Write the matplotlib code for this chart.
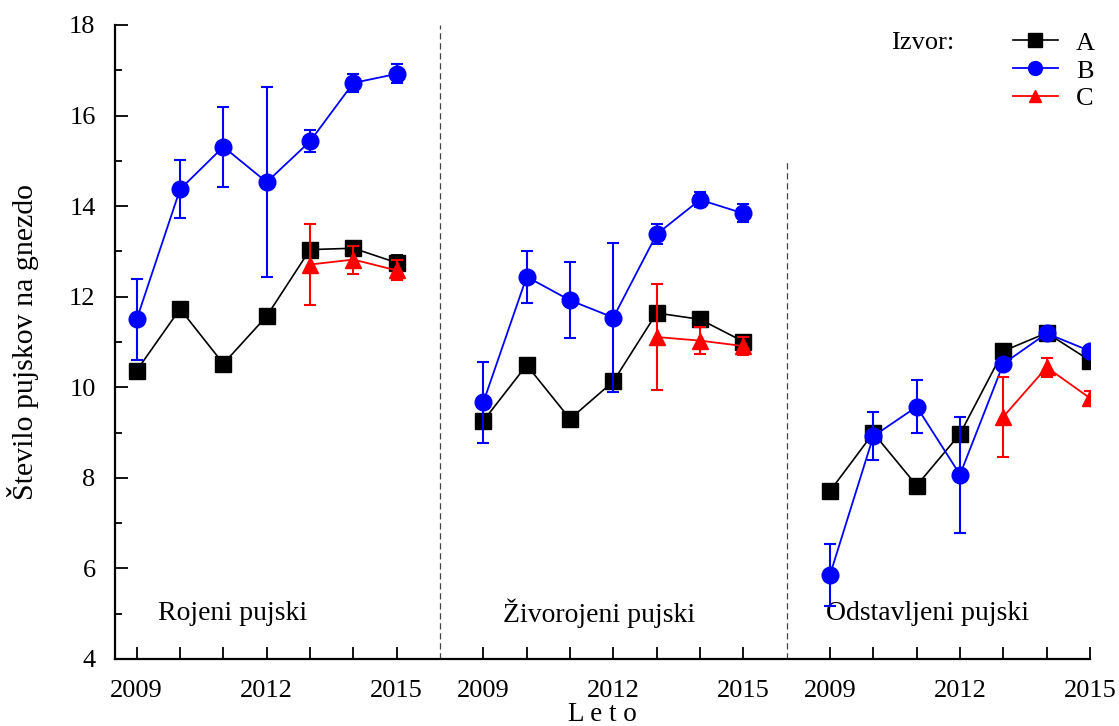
import matplotlib
matplotlib.use("Agg")
import matplotlib.pyplot as plt
from matplotlib.lines import Line2D
from matplotlib.ticker import FixedLocator, FixedFormatter

plt.rcParams['font.family'] = ['Liberation Serif', 'DejaVu Serif']
plt.rcParams['mathtext.fontset'] = 'stix'

years = [2009, 2010, 2011, 2012, 2013, 2014, 2015]
years_c = [2013, 2014, 2015]
panels = ["Rojeni pujski", "Živorojeni pujski", "Odstavljeni pujski"]

# Source A
a_vals = [
    [10.37, 11.73, 10.52, 11.57, 13.04, 13.07, 12.75],
    [9.26, 10.49, 9.30, 10.13, 11.64, 11.50, 11.01],
    [7.71, 8.99, 7.83, 8.97, 10.80, 11.20, 10.59],
]
a_err = [
    [0, 0, 0, 0, 0.10, 0.10, 0.17],
    [0, 0, 0, 0, 0.10, 0.10, 0.12],
    [0, 0, 0, 0, 0.10, 0.08, 0.10],
]
# Source B
b_vals = [
    [11.50, 14.37, 15.31, 14.53, 15.43, 16.72, 16.92],
    [9.67, 12.44, 11.92, 11.54, 13.38, 14.14, 13.84],
    [5.86, 8.92, 9.57, 8.07, 10.52, 11.19, 10.80],
]
b_err = [
    [0.89, 0.64, 0.88, 2.09, 0.24, 0.19, 0.21],
    [0.89, 0.57, 0.84, 1.65, 0.22, 0.17, 0.20],
    [0.69, 0.53, 0.58, 1.28, 0.10, 0.08, 0.08],
]
# Source C (2013-2015 only)
c_vals = [
    [12.71, 12.82, 12.58],
    [11.11, 11.03, 10.91],
    [9.35, 10.44, 9.76],
]
c_err = [
    [0.90, 0.31, 0.22],
    [1.17, 0.30, 0.20],
    [0.88, 0.21, 0.15],
]

panel_shift = 8          # years between panel origins
sep_positions = [2016, 2024]
sep_tops = [18, 15]

FS = 19

fig = plt.figure(figsize=(11.19, 7.26), dpi=100)
ax = fig.add_axes([0.1028, 0.0923, 0.8713, 0.8733])

for p in range(3):
    off = p * panel_shift
    xs = [y + off for y in years]
    xc = [y + off for y in years_c]
    ax.errorbar(xs, a_vals[p], yerr=a_err[p], color='black', lw=1.2,
                marker='s', ms=12, capsize=4, elinewidth=1.3, capthick=1.3, zorder=3)
    ax.errorbar(xs, b_vals[p], yerr=b_err[p], color='#0000ff', lw=1.3,
                marker='o', ms=12, capsize=4, elinewidth=1.5, capthick=1.5, zorder=4)
    ax.errorbar(xc, c_vals[p], yerr=c_err[p], color='#ff0000', lw=1.3,
                marker='^', ms=11, capsize=4, elinewidth=1.5, capthick=1.5, zorder=5)

for xsep, top in zip(sep_positions, sep_tops):
    ax.plot([xsep, xsep], [4, top], ls=(0, (5, 3)), color='#444444', lw=0.9, zorder=1)

label_x = [2009.5, 2017.45, 2024.9]
for lx, name in zip(label_x, panels):
    ax.text(lx, 5.0, name, fontsize=20, va='center', ha='left')

ax.set_xlim(2008.5, 2031)
ax.set_ylim(4, 18)

major_x, major_lbl, minor_x = [], [], []
for p in range(3):
    off = p * panel_shift
    for y in years:
        if y in (2009, 2012, 2015):
            major_x.append(y + off)
            major_lbl.append(str(y))
        else:
            minor_x.append(y + off)
ax.xaxis.set_major_locator(FixedLocator(major_x))
ax.xaxis.set_major_formatter(FixedFormatter(major_lbl))
ax.xaxis.set_minor_locator(FixedLocator(minor_x))
ax.set_yticks(range(4, 19, 2))
ax.yaxis.set_minor_locator(FixedLocator(range(5, 18, 2)))

ax.tick_params(axis='x', which='both', direction='in', length=9, width=1.3,
               labelsize=FS, pad=15)
ax.tick_params(axis='y', which='major', direction='in', length=9, width=1.3,
               labelsize=FS, pad=14)
ax.tick_params(axis='y', which='minor', direction='in', length=5, width=1.3)

for s in ('top', 'right'):
    ax.spines[s].set_visible(False)
for s in ('left', 'bottom'):
    ax.spines[s].set_linewidth(1.6)

ax.set_ylabel("Število pujskov na gnezdo", fontsize=21.5)
ax.yaxis.set_label_coords(-0.078, 0.5)
ax.set_xlabel("L e t o", fontsize=19.5, labelpad=0)

handles = [
    Line2D([], [], color='black', marker='s', ms=10, lw=1.2),
    Line2D([], [], color='#0000ff', marker='o', ms=10, lw=1.3),
    Line2D([], [], color='#ff0000', marker='^', ms=9, lw=1.3),
]
leg = ax.legend(handles, ['A', 'B', 'C'], loc='upper right', bbox_to_anchor=(1.016, 1.007),
                frameon=False, fontsize=FS, handlelength=1.7, handletextpad=0.7,
                labelspacing=0.17, borderaxespad=0)
ax.text(0.796, 0.971, "Izvor:", transform=ax.transAxes, fontsize=FS, va='center', ha='left')

fig.savefig("out.png", dpi=100)
